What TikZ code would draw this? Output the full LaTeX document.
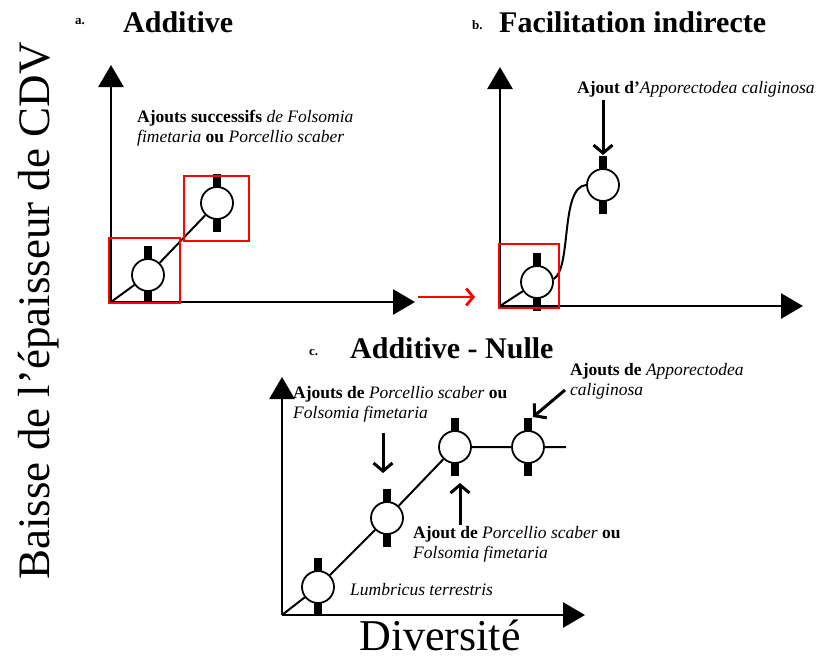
\documentclass[tikz,border=0pt]{standalone}
\usepackage{fontspec}
\setmainfont{Liberation Serif}
\usetikzlibrary{arrows.meta,positioning}

\begin{document}
\begin{tikzpicture}[
  x=1pt, y=-1pt,
  axis/.style={line width=2.8pt, -{Triangle[length=22pt,width=25pt]}},
  link/.style={line width=2pt},
  dot/.style={draw, line width=1.8pt, circle, fill=white, minimum size=32pt, inner sep=0pt},
  bar/.style={fill=black, minimum width=7.5pt, minimum height=58pt, inner sep=0pt},
  redbox/.style={draw=red, line width=2.2pt},
  note/.style={line width=3pt, -{Straight Barb[length=8pt,width=19pt]}},
  ttl/.style={font=\fontsize{30}{32}\selectfont\bfseries, anchor=base west, inner sep=0pt},
  tag/.style={font=\fontsize{13}{14}\selectfont\bfseries, anchor=base west, inner sep=0pt},
  lbl/.style={font=\fontsize{17.5}{20}\selectfont, align=left, anchor=north west, inner sep=0pt}
]
\useasboundingbox (0,0) rectangle (819,657);

% shared axis labels
\node[rotate=90, font=\fontsize{45}{45}\selectfont, inner sep=0pt] (ylab) at (39,311) {Baisse de l’épaisseur de CDV};
\node[font=\fontsize{44}{44}\selectfont, anchor=base, inner sep=0pt] (xlab) at (440,650) {Diversité};

% a. Additive
\node[tag] (ta) at (75,24) {a.};
\node[ttl] (Ta) at (123,32) {Additive};
\coordinate (oa) at (111,302);
\coordinate (ya) at (111,65);
\coordinate (xa) at (415,302);
\draw[axis] (oa) -- (ya);
\draw[axis] (oa) -- (xa);
\foreach \n/\x/\y in {a1/148/275, a2/217/203} {
  \node[bar] at (\x,\y) {};
  \node[dot] (\n) at (\x,\y) {};
}
\draw[link] (oa) -- (a1) -- (a2);
\draw[redbox] (109,238) rectangle (180,303);
\draw[redbox] (184,176) rectangle (249,241);
\node[lbl] (na) at (137,110)
  {\textbf{Ajouts successifs} \textit{de Folsomia}\\\textit{fimetaria} \textbf{ou} \textit{Porcellio scaber}};

% red link between a and b
\coordinate (ra) at (418,297);
\coordinate (rb) at (475,297);
\draw[red, line width=2.8pt, -{Straight Barb[length=7pt,width=17pt]}] (ra) -- (rb);

% b. Facilitation indirecte
\node[tag] (tb) at (472,29) {b.};
\node[ttl] (Tb) at (499,32) {Facilitation indirecte};
\coordinate (ob) at (500,306);
\coordinate (yb) at (500,67);
\coordinate (xb) at (803,306);
\draw[axis] (ob) -- (yb);
\draw[axis] (ob) -- (xb);
\foreach \n/\x/\y in {b1/537/282, b2/603/185} {
  \node[bar] at (\x,\y) {};
  \node[dot] (\n) at (\x,\y) {};
}
\draw[link] (ob) -- (b1);
\draw[link] (b1.10) .. controls (572,268) and (560,187) .. (b2.west);
\draw[redbox] (499,244) rectangle (559,308);
\node[lbl] (nb) at (577,81) {\textbf{Ajout d’}\textit{Apporectodea caliginosa}};
\coordinate (sb) at (603,100);
\draw[note] (sb) -- (b2.north |- 0,155);

% c. Additive - Nulle
\node[tag] (tc) at (309,355) {c.};
\node[ttl] (Tc) at (350,358) {Additive - Nulle};
\coordinate (oc) at (282,615);
\coordinate (yc) at (282,377);
\coordinate (xc) at (585,615);
\draw[axis] (oc) -- (yc);
\draw[axis] (oc) -- (xc);
\foreach \n/\x/\y in {c1/318/587, c2/387/518, c3/455/447, c4/528/447} {
  \node[bar] at (\x,\y) {};
  \node[dot] (\n) at (\x,\y) {};
}
\coordinate (ec) at (566,447);
\draw[link] (oc) -- (c1) -- (c2) -- (c3) -- (c4) -- (ec);
\node[lbl] (n1) at (293,386)
  {\textbf{Ajouts de} \textit{Porcellio scaber} \textbf{ou}\\\textit{Folsomia fimetaria}};
\node[lbl] (n2) at (413,526)
  {\textbf{Ajout de} \textit{Porcellio scaber} \textbf{ou}\\\textit{Folsomia fimetaria}};
\node[lbl] (n3) at (570,363)
  {\textbf{Ajouts de} \textit{Apporectodea}\\\textit{caliginosa}};
\node[lbl, anchor=base west] (n4) at (350,595) {\textit{Lumbricus terrestris}};
\coordinate (s1) at (383,433);
\coordinate (e1) at (383,473);
\coordinate (s2) at (460,525);
\coordinate (e2) at (460,483);
\coordinate (s3) at (565,390);
\coordinate (e3) at (533,417);
\draw[note] (s1) -- (e1);
\draw[note] (s2) -- (e2);
\draw[note] (s3) -- (e3);
\end{tikzpicture}
\end{document}
